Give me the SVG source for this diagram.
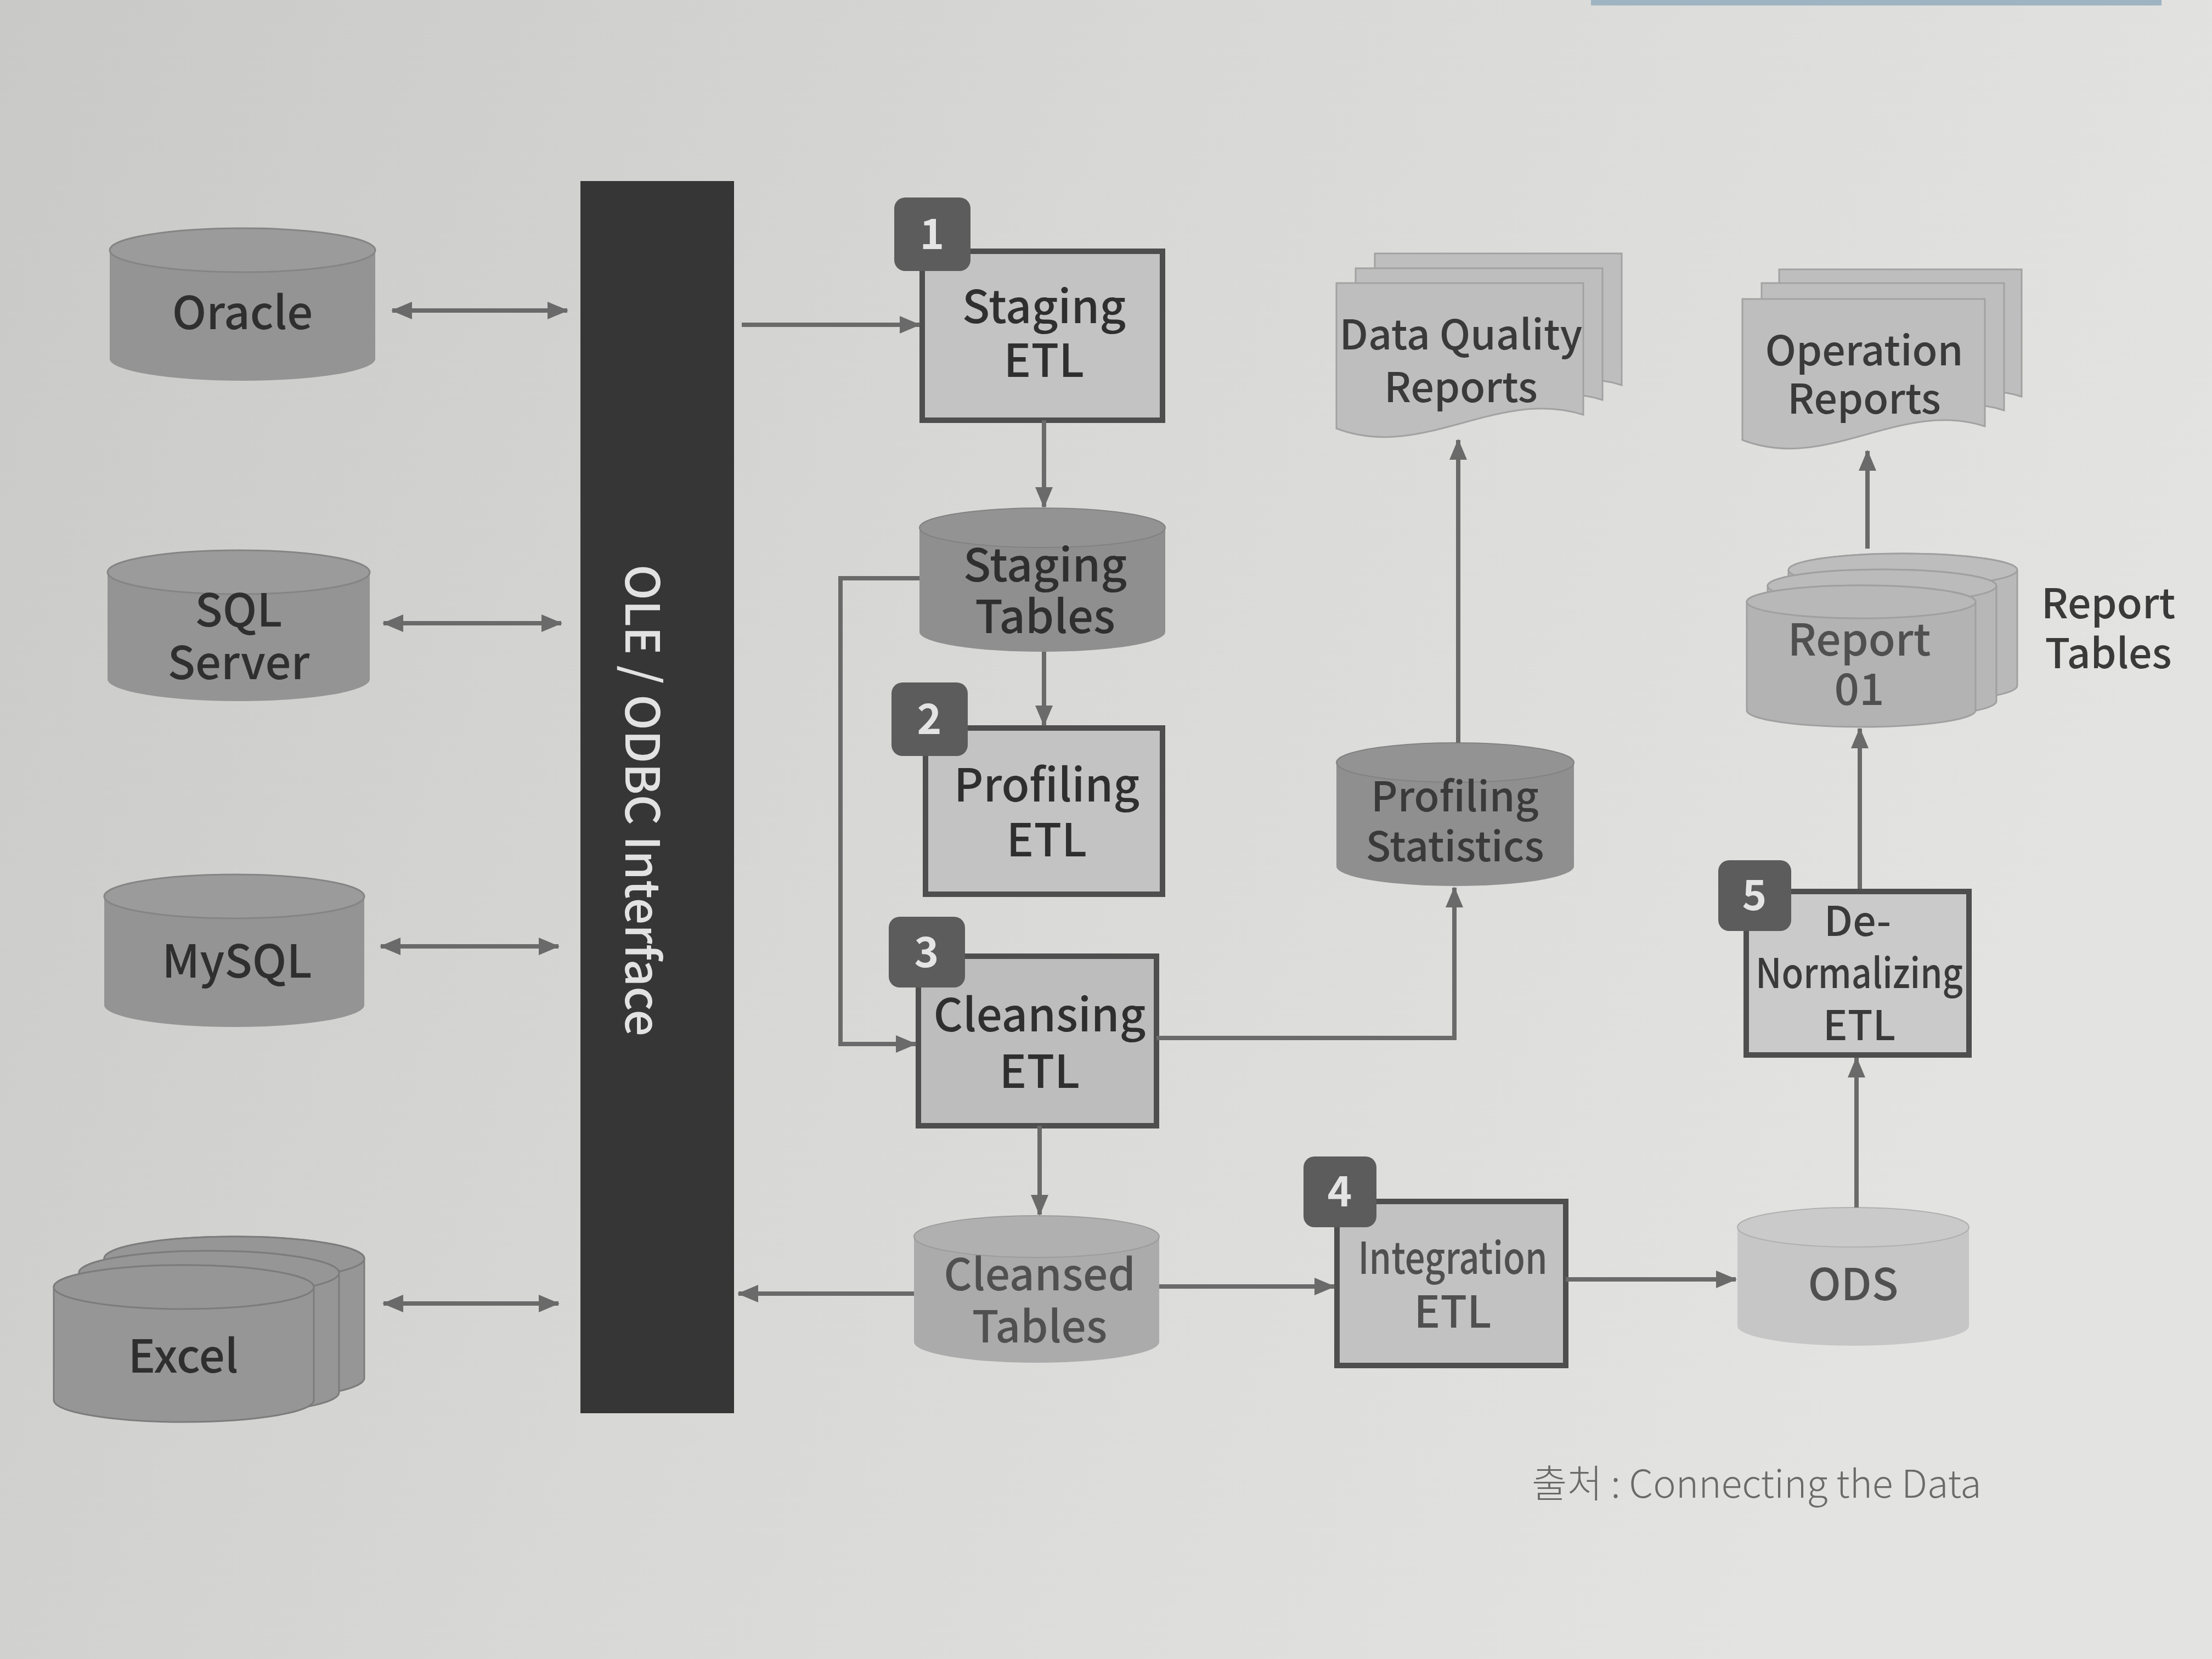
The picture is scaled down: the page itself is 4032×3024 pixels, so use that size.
<svg xmlns="http://www.w3.org/2000/svg" width="4032" height="3024" viewBox="0 0 4032 3024">
<defs>
<linearGradient id="bg" x1="0" y1="0" x2="1" y2="0.3">
<stop offset="0" stop-color="#c9c9c7"/>
<stop offset="0.5" stop-color="#d8d8d6"/>
<stop offset="1" stop-color="#e3e3e1"/>
</linearGradient>
<marker id="ah" viewBox="0 0 38 32" refX="36" refY="16" markerWidth="38" markerHeight="32" markerUnits="userSpaceOnUse" orient="auto-start-reverse">
<path d="M0,0 L38,16 L0,32 Z" fill="#6a6a6a"/>
</marker>
</defs>
<style>
text{font-family:"Noto Sans CJK KR","Noto Sans",sans-serif;text-anchor:middle}
.lbl{font-size:83px;font-weight:500;fill:#2f2f2f}
.lblr{font-size:75px;font-weight:500;fill:#3a3a3a}
.lblg{font-size:80px;font-weight:500;fill:#505050}
.src{fill:#949494}
.srctop{fill:#9b9b9b;stroke:#858585;stroke-width:3}
.stk{fill:#969696;stroke:#7c7c7c;stroke-width:3}
.etl{stroke:#4e4e4e;stroke-width:10}
.badge{fill:#5c5c5c}
.num{font-size:76px;font-weight:bold;fill:#e4e4e4}
.db1{fill:#8f8f8f}
.db1top{fill:#939393;stroke:#828282;stroke-width:2}
.doc{fill:#bebebe;stroke:#a2a2a2;stroke-width:3}
.conn{fill:none;stroke:#6a6a6a;stroke-width:8}
</style>
<rect x="0" y="0" width="4032" height="3024" fill="url(#bg)"/>
<rect x="2900" y="0" width="1040" height="10" fill="#9fb4c2"/>

<!-- OLE bar -->
<g id="ole">
<rect x="1058" y="330" width="280" height="2246" fill="#363636"/>
<text x="0" y="0" transform="translate(1170,1459) rotate(90)" font-size="86" font-weight="500" fill="#e2e2e2" dy="30" textLength="860" lengthAdjust="spacingAndGlyphs">OLE / ODBC Interface</text>
</g>

<!-- sources -->
<g id="oracle">
<path class="src" d="M200,456 V654 A242,40 0 0 0 684,654 V456 A242,40 0 0 0 200,456 Z"/>
<ellipse class="srctop" cx="442" cy="456" rx="242" ry="40"/>
<text class="lbl" x="442" y="600">Oracle</text>
</g>
<g id="sqlserver">
<path class="src" d="M196,1043 V1238 A239,40 0 0 0 674,1238 V1043 A239,40 0 0 0 196,1043 Z"/>
<ellipse class="srctop" cx="435" cy="1043" rx="239" ry="40"/>
<text class="lbl" x="435" y="1142">SQL</text>
<text class="lbl" x="435" y="1238">Server</text>
</g>
<g id="mysql">
<path class="src" d="M190,1634 V1832 A237,40 0 0 0 664,1832 V1634 A237,40 0 0 0 190,1634 Z"/>
<ellipse class="srctop" cx="427" cy="1634" rx="237" ry="40"/>
<text class="lbl" x="432" y="1782">MySQL</text>
</g>
<g id="excel">
<path class="stk" d="M190,2294 V2512 A237,40 0 0 0 664,2512 V2294 A237,40 0 0 0 190,2294 Z"/>
<ellipse class="stk" cx="427" cy="2294" rx="237" ry="40"/>
<path class="stk" d="M144,2320 V2538 A237,40 0 0 0 618,2538 V2320 A237,40 0 0 0 144,2320 Z"/>
<ellipse class="stk" cx="381" cy="2320" rx="237" ry="40"/>
<path class="stk" d="M98,2346 V2552 A237,40 0 0 0 572,2552 V2346 A237,40 0 0 0 98,2346 Z"/>
<ellipse class="stk" cx="335" cy="2346" rx="237" ry="40"/>
<text class="lbl" x="334" y="2502">Excel</text>
</g>

<!-- ETL steps -->
<g id="staging-etl">
<rect class="etl" x="1681" y="458" width="438" height="308" fill="#c3c3c3"/>
<rect class="badge" x="1630" y="360" width="139" height="134" rx="20"/>
<text class="num" x="1699" y="454">1</text>
<text class="lbl" x="1903" y="589">Staging</text>
<text class="lbl" x="1903" y="687">ETL</text>
</g>
<g id="staging-tables">
<path class="db1" d="M1676,962 V1152 A224,36 0 0 0 2124,1152 V962 A224,36 0 0 0 1676,962 Z"/>
<ellipse class="db1top" cx="1900" cy="962" rx="224" ry="36"/>
<text class="lbl" x="1905" y="1060">Staging</text>
<text class="lbl" x="1905" y="1154">Tables</text>
</g>
<g id="profiling-etl">
<rect class="etl" x="1687" y="1327" width="432" height="303" fill="#c3c3c3"/>
<rect class="badge" x="1625" y="1244" width="139" height="134" rx="20"/>
<text class="num" x="1694" y="1338">2</text>
<text class="lbl" x="1908" y="1461">Profiling</text>
<text class="lbl" x="1908" y="1561">ETL</text>
</g>
<g id="cleansing-etl">
<rect class="etl" x="1674" y="1743" width="434" height="309" fill="#bdbdbd"/>
<rect class="badge" x="1620" y="1671" width="139" height="129" rx="20"/>
<text class="num" x="1689" y="1763">3</text>
<text class="lbl" x="1895" y="1880">Cleansing</text>
<text class="lbl" x="1895" y="1983">ETL</text>
</g>
<g id="cleansed-tables">
<path fill="#ababab" d="M1666,2254 V2446 A223.5,38 0 0 0 2113,2446 V2254 A223.5,38 0 0 0 1666,2254 Z"/>
<ellipse cx="1889.5" cy="2254" rx="223.5" ry="38" fill="#b0b0b0" stroke="#9c9c9c" stroke-width="2"/>
<text class="lblg" x="1895" y="2352">Cleansed</text>
<text class="lblg" x="1895" y="2447">Tables</text>
</g>
<g id="integration-etl">
<rect class="etl" x="2437" y="2190" width="417" height="299" fill="#c2c2c2"/>
<rect class="badge" x="2376" y="2108" width="133" height="129" rx="20"/>
<text class="num" x="2442" y="2199">4</text>
<text class="lblg" x="2648" y="2322" font-size="78" textLength="345" lengthAdjust="spacingAndGlyphs">Integration</text>
<text class="lblg" x="2648" y="2420" font-size="78">ETL</text>
</g>
<g id="ods">
<path fill="#c6c6c6" d="M3167,2237 V2417 A211,36 0 0 0 3589,2417 V2237 A211,36 0 0 0 3167,2237 Z"/>
<ellipse cx="3378" cy="2237" rx="211" ry="36" fill="#cacaca" stroke="#b0b0b0" stroke-width="2"/>
<text class="lblg" x="3378" y="2370" font-size="76">ODS</text>
</g>
<g id="denormalizing-etl">
<rect class="etl" x="3183" y="1625" width="406" height="298" fill="#cacaca"/>
<rect class="badge" x="3132" y="1568" width="133" height="129" rx="20"/>
<text class="num" x="3198" y="1659">5</text>
<text class="lblr" x="3386" y="1706" font-size="74">De-</text>
<text class="lblr" x="3389" y="1801" font-size="74" textLength="378" lengthAdjust="spacingAndGlyphs">Normalizing</text>
<text class="lblr" x="3389" y="1896" font-size="74">ETL</text>
</g>
<g id="report-tables">
<path fill="#b9b9b9" stroke="#a0a0a0" stroke-width="3" d="M3260,1039 V1250 A208.5,30 0 0 0 3677,1250 V1039 A208.5,30 0 0 0 3260,1039 Z"/>
<ellipse cx="3468.5" cy="1039" rx="208.5" ry="30" fill="#bdbdbd" stroke="#a0a0a0" stroke-width="3"/>
<path fill="#b7b7b7" stroke="#a0a0a0" stroke-width="3" d="M3222,1068 V1278 A208.5,30 0 0 0 3639,1278 V1068 A208.5,30 0 0 0 3222,1068 Z"/>
<ellipse cx="3430.5" cy="1068" rx="208.5" ry="30" fill="#bbbbbb" stroke="#a0a0a0" stroke-width="3"/>
<path fill="#b3b3b3" stroke="#a0a0a0" stroke-width="3" d="M3184,1097 V1295 A208.5,30 0 0 0 3601,1295 V1097 A208.5,30 0 0 0 3184,1097 Z"/>
<ellipse cx="3392.5" cy="1097" rx="208.5" ry="30" fill="#b8b8b8" stroke="#a0a0a0" stroke-width="3"/>
<text class="lblg" x="3389" y="1195" font-size="76">Report</text>
<text class="lblg" x="3389" y="1285" font-size="76">01</text>
</g>
<g id="report-tables-label">
<text class="lblr" x="3843" y="1127">Report</text>
<text class="lblr" x="3843" y="1218">Tables</text>
</g>
<g id="operation-reports">
<path class="doc" d="M3243,491 H3685 V723 C3530,673 3398,808 3243,748 Z"/>
<path class="doc" d="M3211,516 H3653 V748 C3498,698 3366,833 3211,773 Z"/>
<path class="doc" d="M3176,545 H3618 V777 C3463,727 3331,862 3176,802 Z"/>
<text class="lblr" x="3398" y="666">Operation</text>
<text class="lblr" x="3398" y="754">Reports</text>
</g>
<g id="data-quality-reports">
<path class="doc" d="M2506,462 H2956 V702 C2798,652 2664,787 2506,727 Z"/>
<path class="doc" d="M2471,489 H2921 V729 C2763,679 2629,814 2471,754 Z"/>
<path class="doc" d="M2436,516 H2886 V756 C2728,706 2594,841 2436,781 Z"/>
<text class="lblr" x="2663" y="637">Data Quality</text>
<text class="lblr" x="2663" y="733">Reports</text>
</g>
<g id="profiling-statistics">
<path class="db1" d="M2436,1390 V1579 A216.5,36 0 0 0 2869,1579 V1390 A216.5,36 0 0 0 2436,1390 Z"/>
<ellipse class="db1top" cx="2652.5" cy="1390" rx="216.5" ry="36"/>
<text class="lblr" x="2652" y="1479" font-size="78" fill="#2e2e2e">Profiling</text>
<text class="lblr" x="2652" y="1570" font-size="78" fill="#2e2e2e">Statistics</text>
</g>

<!-- connectors -->
<g id="connectors">
<line class="conn" x1="715" y1="566" x2="1034" y2="566" marker-start="url(#ah)" marker-end="url(#ah)"/>
<line class="conn" x1="699" y1="1136" x2="1023" y2="1136" marker-start="url(#ah)" marker-end="url(#ah)"/>
<line class="conn" x1="694" y1="1725" x2="1018" y2="1725" marker-start="url(#ah)" marker-end="url(#ah)"/>
<line class="conn" x1="699" y1="2376" x2="1018" y2="2376" marker-start="url(#ah)" marker-end="url(#ah)"/>
<line class="conn" x1="1352" y1="592" x2="1676" y2="592" marker-end="url(#ah)"/>
<line class="conn" x1="1903" y1="766" x2="1903" y2="924" marker-end="url(#ah)"/>
<line class="conn" x1="1903" y1="1188" x2="1903" y2="1322" marker-end="url(#ah)"/>
<polyline class="conn" points="1676,1054 1532,1054 1532,1903 1669,1903" marker-end="url(#ah)"/>
<line class="conn" x1="1895" y1="2052" x2="1895" y2="2214" marker-end="url(#ah)"/>
<line class="conn" x1="1666" y1="2358" x2="1346" y2="2358" marker-end="url(#ah)"/>
<line class="conn" x1="2113" y1="2345" x2="2432" y2="2345" marker-end="url(#ah)"/>
<line class="conn" x1="2854" y1="2332" x2="3164" y2="2332" marker-end="url(#ah)"/>
<line class="conn" x1="3384" y1="2201" x2="3384" y2="1928" marker-end="url(#ah)"/>
<line class="conn" x1="3390" y1="1620" x2="3390" y2="1328" marker-end="url(#ah)"/>
<line class="conn" x1="3404" y1="1000" x2="3404" y2="822" marker-end="url(#ah)"/>
<line class="conn" x1="2658" y1="1354" x2="2658" y2="802" marker-end="url(#ah)"/>
<polyline class="conn" points="2108,1892 2651,1892 2651,1618" marker-end="url(#ah)"/>
</g>

<text x="2792" y="2730" font-size="70" font-weight="300" fill="#6a6a6a" style="text-anchor:start">출처 : Connecting the Data</text>
</svg>
